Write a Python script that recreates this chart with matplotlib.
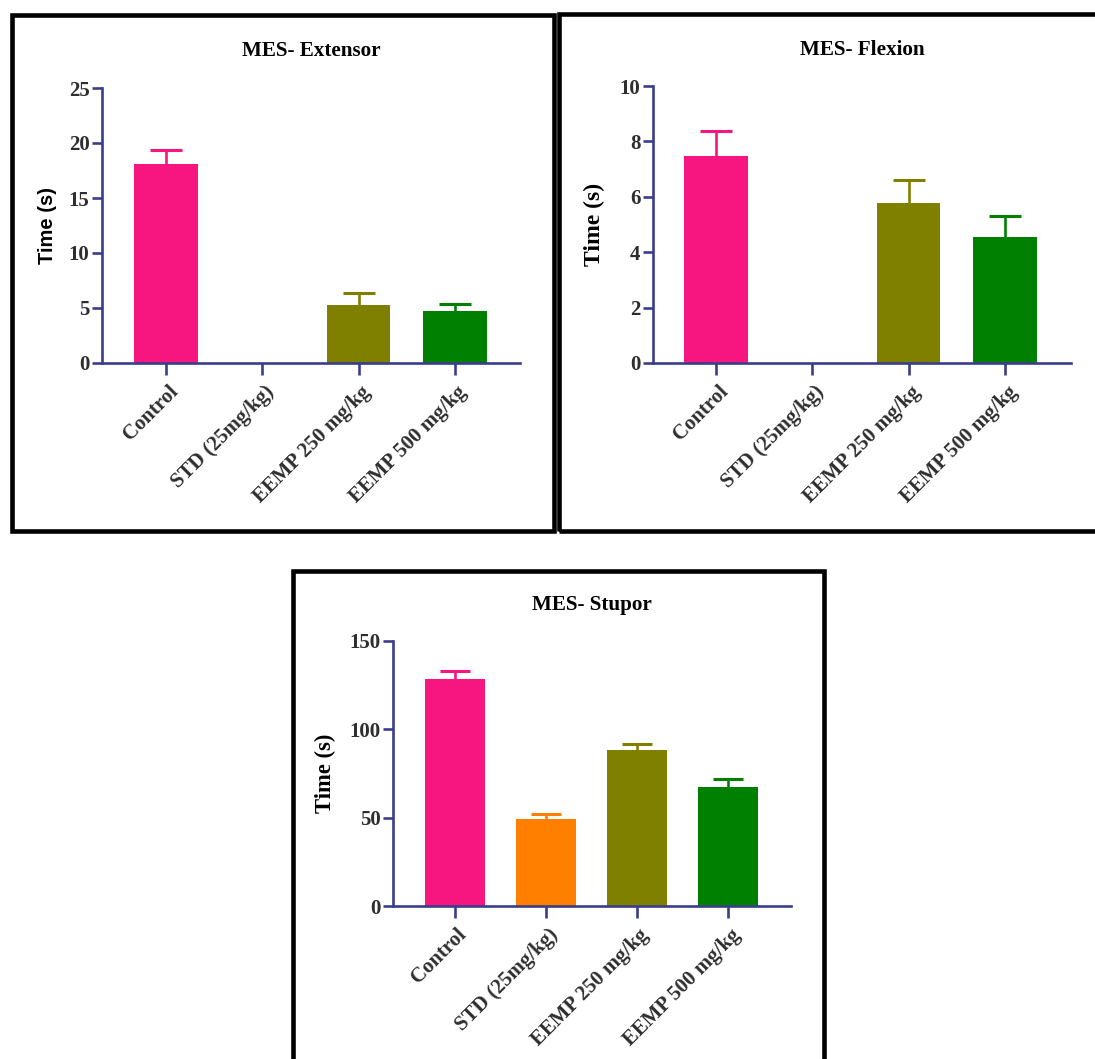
import matplotlib
matplotlib.use("Agg")
import matplotlib.pyplot as plt
import matplotlib.transforms as mtransforms
from matplotlib.patches import Rectangle
import numpy as np

categories = ["Control", "STD (25mg/kg)", "EEMP 250 mg/kg", "EEMP 500 mg/kg"]
bar_colors = ["#F7167F", "#FF8000", "#808000", "#008000"]

extensor_mean = [18.05, 0.0, 5.27, 4.72]
extensor_err = [1.35, 0.0, 1.11, 0.65]

flexion_mean = [7.47, 0.0, 5.77, 4.56]
flexion_err = [0.92, 0.0, 0.84, 0.74]

stupor_mean = [128.5, 49.2, 88.2, 67.3]
stupor_err = [4.5, 2.8, 3.5, 4.5]

titles = ["MES- Extensor", "MES- Flexion", "MES- Stupor"]
yticks_ext = [0, 5, 10, 15, 20, 25]
yticks_flex = [0, 2, 4, 6, 8, 10]
yticks_stu = [0, 50, 100, 150]

W, H = 1095, 1059
fig = plt.figure(figsize=(W / 100, H / 100), dpi=100)
fig.patch.set_facecolor("white")

AX_COLOR = "#3a3d8c"
TICK_COLOR = "#2e2e2e"
SERIF = "Liberation Serif"
BAR_W = 0.66
CAP_HALF = 0.166


def px_rect(left, top, right, bottom):
    return [left / W, 1 - bottom / H, (right - left) / W, (bottom - top) / H]


def frame(left, top, right, bottom):
    r = Rectangle((left / W, 1 - bottom / H), (right - left) / W, (bottom - top) / H,
                  transform=fig.transFigure, fill=False, edgecolor="black",
                  linewidth=3.3, zorder=10)
    fig.patches.append(r)


def panel(rect, means, errs, title, yticks, ymax, ylab_font, ylab_size, ylab_x, title_pad, xlim):
    ax = fig.add_axes(rect)
    x = np.arange(len(categories))
    ax.bar(x, means, width=BAR_W, color=bar_colors, edgecolor="none", zorder=2)
    means_a = np.array(means)
    errs_a = np.array(errs)
    for i in range(len(categories)):
        if means_a[i] > 0:
            top = means_a[i] + errs_a[i]
            ax.vlines(x[i], means_a[i], top, colors=bar_colors[i], linewidth=1.9, zorder=1)
            ax.hlines(top, x[i] - CAP_HALF, x[i] + CAP_HALF, colors=bar_colors[i],
                      linewidth=2.2, zorder=1)
    ax.set_xlim(*xlim)
    ax.set_ylim(0, ymax)
    ax.set_yticks(yticks)
    ax.set_yticklabels([str(t) for t in yticks])
    ax.set_xticks(x)
    ax.set_xticklabels(categories, rotation=45, ha="right", va="top",
                       rotation_mode="anchor")
    for s in ["top", "right"]:
        ax.spines[s].set_visible(False)
    for s in ["left", "bottom"]:
        ax.spines[s].set_color(AX_COLOR)
        ax.spines[s].set_linewidth(1.9)
        ax.spines[s].set_zorder(3)
    ax.tick_params(axis="both", colors=AX_COLOR, width=1.9, direction="out")
    ax.tick_params(axis="y", length=7, pad=2)
    ax.tick_params(axis="x", length=8.5, pad=5)
    for lab in ax.get_yticklabels():
        lab.set_fontfamily(SERIF)
        lab.set_fontweight("bold")
        lab.set_fontsize(15)
        lab.set_color(TICK_COLOR)
    offset = mtransforms.ScaledTranslation(2 / 100, 0, fig.dpi_scale_trans)
    for lab in ax.get_xticklabels():
        lab.set_fontfamily(SERIF)
        lab.set_fontweight("bold")
        lab.set_fontsize(15)
        lab.set_color(TICK_COLOR)
        lab.set_transform(lab.get_transform() + offset)
    ax.set_title(title, fontfamily=SERIF, fontweight="bold", fontsize=15.2,
                 pad=title_pad, color="black")
    ax.set_ylabel("Time (s)", fontfamily=ylab_font, fontweight="bold",
                  fontsize=ylab_size, color="black")
    ax.yaxis.set_label_coords(ylab_x, 0.5)
    ax.set_facecolor("none")
    return ax


panel(px_rect(102, 88, 520, 363), extensor_mean, extensor_err, titles[0],
      yticks_ext, 25, "Liberation Sans", 14.5, -0.108, 23, (-0.665, 3.675))
panel(px_rect(653, 86, 1071, 363), flexion_mean, flexion_err, titles[1],
      yticks_flex, 10, SERIF, 17, -0.115, 22, (-0.655, 3.685))
panel(px_rect(393, 641, 791, 906), stupor_mean, stupor_err, titles[2],
      yticks_stu, 150, SERIF, 16.3, -0.142, 22, (-0.677, 3.69))

frame(12, 15, 554, 530.5)
frame(559, 14, 1110, 530.5)
frame(293, 570.5, 824, 1075)

fig.savefig("out.png", dpi=100, facecolor="white")
